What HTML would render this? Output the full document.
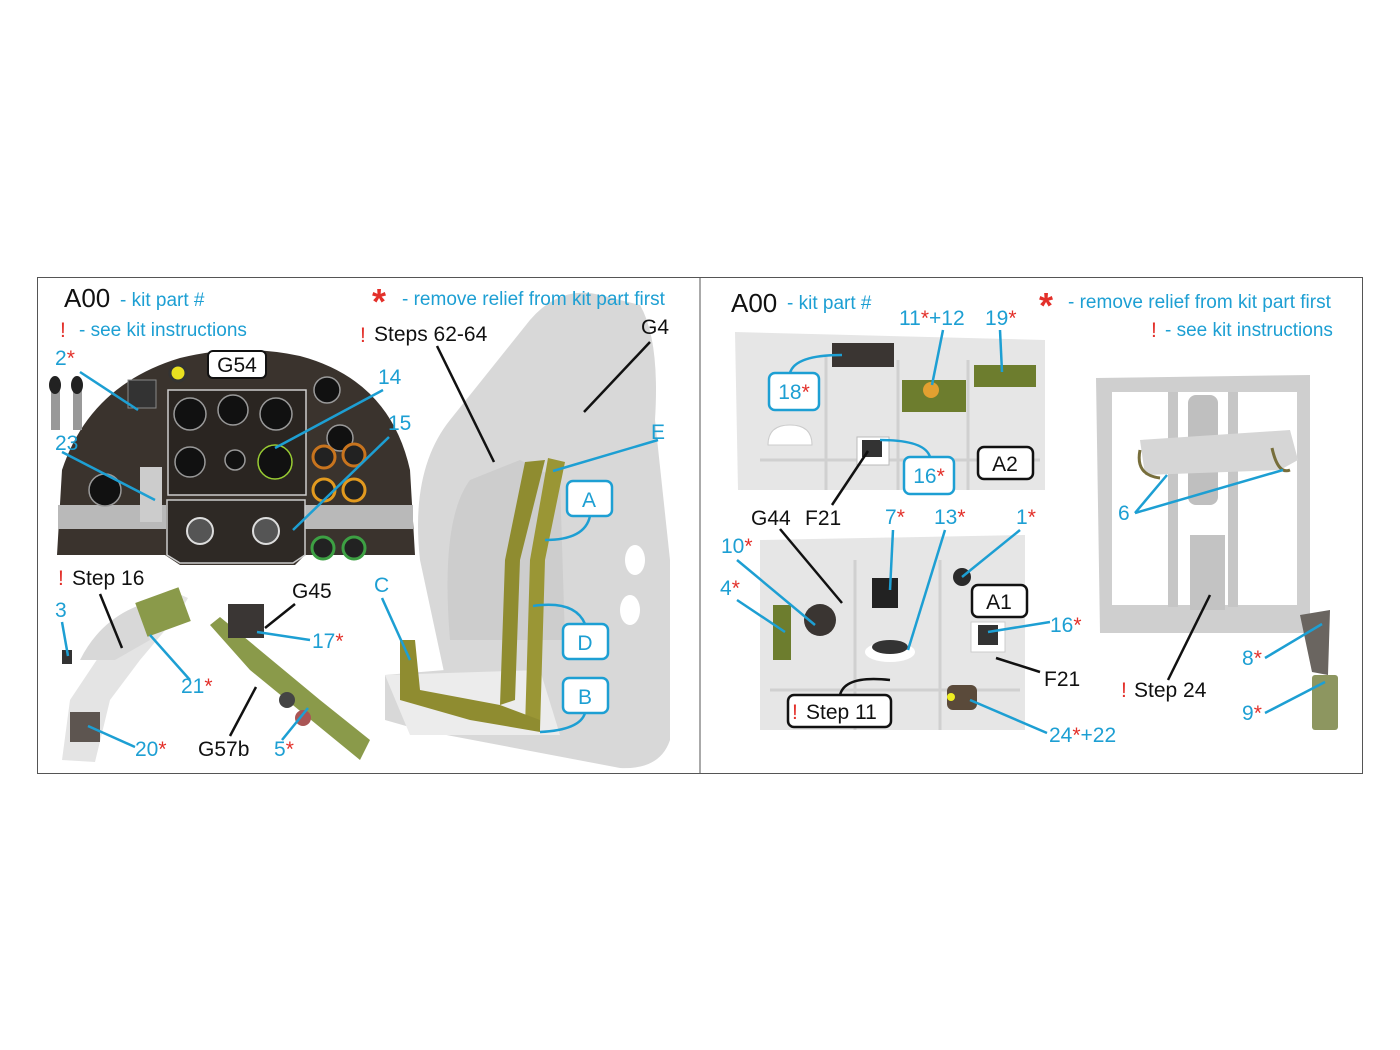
<!DOCTYPE html>
<html><head><meta charset="utf-8"><style>
html,body{margin:0;padding:0;background:#fff;}
svg{display:block}
text{font-family:"Liberation Sans",sans-serif;}
.b{fill:#1d9fd3;font-size:21px}
.k{fill:#111;font-size:21px}
.r{fill:#e3302a}
.sb{fill:#1d9fd3;font-size:19px}
.lb{stroke:#1d9fd3;stroke-width:2.5;fill:none}
.lk{stroke:#111;stroke-width:2.5;fill:none}
</style></head><body>
<svg width="1400" height="1050" viewBox="0 0 1400 1050">
<rect x="37.5" y="277.5" width="1325" height="496" fill="#fff" stroke="#555" stroke-width="1"/>
<line x1="700" y1="277" x2="700" y2="773" stroke="#555"/>

<!-- LEFT: instrument panel -->
<path d="M57,555 L62,470 Q90,385 180,358 Q240,343 300,356 Q390,380 410,470 L415,555 L305,555 L295,565 L180,565 L165,555 Z" fill="#3a332d"/>
<rect x="58" y="505" width="108" height="24" fill="#b9b9b9"/>
<rect x="305" y="505" width="108" height="24" fill="#b9b9b9"/>
<rect x="168" y="390" width="138" height="105" fill="#2a2521" stroke="#ccc" stroke-width="1.5"/>
<path d="M167,500 L305,500 L305,555 L293,563 L180,563 L167,555 Z" fill="#2e2925" stroke="#ccc" stroke-width="1.5"/>
<circle cx="200" cy="531" r="13" fill="#555" stroke="#ddd" stroke-width="2"/>
<circle cx="266" cy="531" r="13" fill="#555" stroke="#ddd" stroke-width="2"/>
<g fill="#111" stroke="#999" stroke-width="1.5">
<circle cx="190" cy="414" r="16"/><circle cx="233" cy="410" r="15"/><circle cx="276" cy="414" r="16"/>
<circle cx="190" cy="462" r="15"/><circle cx="235" cy="460" r="10"/>
<circle cx="275" cy="462" r="17" stroke="#9c3"/>
<circle cx="105" cy="490" r="16"/><circle cx="327" cy="390" r="13"/><circle cx="340" cy="438" r="13"/>
</g>
<g fill="#222" stroke-width="3">
<circle cx="324" cy="457" r="11" stroke="#c8741e"/><circle cx="354" cy="455" r="11" stroke="#c8741e"/>
<circle cx="324" cy="490" r="11" stroke="#e29a1f"/><circle cx="354" cy="490" r="11" stroke="#e29a1f"/>
<circle cx="323" cy="548" r="11" stroke="#3da043"/><circle cx="354" cy="548" r="11" stroke="#3da043"/>
</g>
<rect x="140" y="467" width="22" height="55" fill="#ccc"/>
<circle cx="178" cy="373" r="8" fill="#e8e020" stroke="#333" stroke-width="3"/>
<rect x="128" y="380" width="28" height="28" fill="#333" stroke="#888"/>
<rect x="208" y="351" width="58" height="27" rx="5" fill="#fff" stroke="#111" stroke-width="2"/>
<text x="237" y="372" class="k" text-anchor="middle">G54</text>
<rect x="51" y="390" width="9" height="40" fill="#999"/><ellipse cx="55" cy="385" rx="6" ry="9" fill="#222"/>
<rect x="73" y="390" width="9" height="40" fill="#999"/><ellipse cx="77" cy="385" rx="6" ry="9" fill="#222"/>

<!-- left bottom parts -->
<path d="M62,760 L70,700 L110,640 L150,600 L170,590 L188,598 L178,615 L140,660 L110,700 L95,762 Z" fill="#e4e4e4"/>
<path d="M80,660 Q100,620 140,605 L150,640 L115,660 Z" fill="#d8d8d8"/>
<rect x="140" y="594" width="46" height="36" fill="#8a9a4a" transform="rotate(-20 163 612)"/>
<rect x="70" y="712" width="30" height="30" fill="#5d5550"/>
<rect x="62" y="650" width="10" height="14" fill="#333"/>
<path d="M210,625 L220,617 L320,700 L370,740 L360,760 L250,670 Z" fill="#8a9a4a"/>
<rect x="228" y="604" width="36" height="34" fill="#3a3634"/>
<circle cx="287" cy="700" r="8" fill="#444"/><circle cx="303" cy="718" r="8" fill="#a55"/>

<!-- seat -->
<path d="M450,700 L420,560 Q410,470 450,420 L530,320 Q560,285 600,295 L640,305 Q660,340 655,420 L670,560 L670,740 Q660,770 620,768 L420,730 L385,720 L385,675 L445,670 Z" fill="#d8d8d8"/>
<path d="M385,675 L540,670 L560,735 L410,735 Z" fill="#ececec"/>
<path d="M450,640 Q440,520 470,480 L520,460 L560,480 L565,640 Z" fill="#cdcdcd"/>
<ellipse cx="635" cy="560" rx="10" ry="15" fill="#fff"/><ellipse cx="630" cy="610" rx="10" ry="15" fill="#fff"/>
<path d="M525,462 L545,460 L520,560 L515,700 L500,705 L505,560 Z" fill="#8f8c30"/>
<path d="M548,458 L565,462 L545,560 L540,730 L525,728 L530,560 Z" fill="#9a9635"/>
<path d="M400,640 L415,640 L420,690 L500,705 L540,720 L540,732 L470,720 L400,700 Z" fill="#8f8c30"/>

<!-- left labels -->
<text x="64" y="307" style="font-size:26px" fill="#111">A00</text>
<text x="120" y="306" class="sb">- kit part #</text>
<text x="60" y="337" class="r" style="font-size:21px">!</text>
<text x="79" y="336" class="sb">- see kit instructions</text>
<text x="372" y="314" class="r" style="font-size:36px;font-weight:bold">*</text>
<text x="402" y="305" class="sb">- remove relief from kit part first</text>
<text x="360" y="342" class="r" style="font-size:21px">!</text>
<text x="374" y="341" class="k">Steps 62-64</text>
<text x="641" y="334" class="k">G4</text>
<text x="55" y="365" class="b">2<tspan class="r">*</tspan></text>
<text x="378" y="384" class="b">14</text>
<text x="388" y="430" class="b">15</text>
<text x="55" y="450" class="b">23</text>
<text x="651" y="439" class="b">E</text>
<text x="58" y="585" class="r" style="font-size:21px">!</text>
<text x="72" y="585" class="k">Step 16</text>
<text x="55" y="617" class="b">3</text>
<text x="292" y="598" class="k">G45</text>
<text x="374" y="592" class="b">C</text>
<text x="312" y="648" class="b">17<tspan class="r">*</tspan></text>
<text x="181" y="693" class="b">21<tspan class="r">*</tspan></text>
<text x="135" y="756" class="b">20<tspan class="r">*</tspan></text>
<text x="198" y="756" class="k">G57b</text>
<text x="274" y="756" class="b">5<tspan class="r">*</tspan></text>
<g fill="#fff" stroke="#1d9fd3" stroke-width="2.5">
<rect x="567" y="481" width="45" height="35" rx="6"/>
<rect x="563" y="624" width="45" height="35" rx="6"/>
<rect x="563" y="678" width="45" height="35" rx="6"/>
</g>
<text x="589" y="507" class="b" text-anchor="middle">A</text>
<text x="585" y="650" class="b" text-anchor="middle">D</text>
<text x="585" y="704" class="b" text-anchor="middle">B</text>
<path class="lb" d="M590,516 Q585,540 545,540"/>
<path class="lb" d="M585,624 Q575,600 533,606"/>
<path class="lb" d="M585,713 Q580,730 540,732"/>
<g class="lb">
<line x1="80" y1="372" x2="138" y2="410"/>
<line x1="383" y1="390" x2="275" y2="448"/>
<line x1="389" y1="437" x2="293" y2="530"/>
<line x1="62" y1="452" x2="155" y2="500"/>
<line x1="658" y1="440" x2="553" y2="471"/>
<line x1="62" y1="622" x2="68" y2="656"/>
<line x1="382" y1="598" x2="410" y2="660"/>
<line x1="310" y1="640" x2="257" y2="632"/>
<line x1="190" y1="680" x2="150" y2="635"/>
<line x1="135" y1="747" x2="88" y2="726"/>
<line x1="282" y1="740" x2="308" y2="708"/>
</g>
<g class="lk">
<line x1="437" y1="346" x2="494" y2="462"/>
<line x1="650" y1="342" x2="584" y2="412"/>
<line x1="100" y1="594" x2="122" y2="648"/>
<line x1="295" y1="604" x2="265" y2="628"/>
<line x1="230" y1="736" x2="256" y2="687"/>
</g>

<!-- RIGHT -->
<path d="M735,332 L1045,340 L1045,490 L738,490 Z" fill="#e6e6e6"/>
<g stroke="#d0d0d0" stroke-width="3"><line x1="826" y1="355" x2="826" y2="490"/><line x1="898" y1="360" x2="898" y2="490"/><line x1="968" y1="360" x2="968" y2="490"/><line x1="760" y1="460" x2="1040" y2="460"/></g>
<rect x="832" y="343" width="62" height="24" fill="#3a3532"/>
<rect x="902" y="380" width="64" height="32" fill="#6d7d2e"/>
<circle cx="931" cy="390" r="8" fill="#e2a030"/>
<rect x="974" y="365" width="62" height="22" fill="#6d7d2e"/>
<rect x="857" y="437" width="32" height="28" fill="#fff" stroke="#bbb"/><rect x="862" y="440" width="20" height="17" fill="#333"/>
<path d="M768,445 Q768,425 790,425 Q812,425 812,445 Z" fill="#fff" stroke="#ccc"/>
<path d="M760,540 L1025,535 L1025,730 L760,730 Z" fill="#e6e6e6"/>
<g stroke="#d0d0d0" stroke-width="3"><line x1="855" y1="560" x2="855" y2="730"/><line x1="940" y1="560" x2="940" y2="730"/><line x1="770" y1="690" x2="1020" y2="690"/></g>
<rect x="773" y="605" width="18" height="55" fill="#6d7d2e"/>
<circle cx="820" cy="620" r="16" fill="#3a3532"/>
<rect x="872" y="578" width="26" height="30" fill="#222"/>
<ellipse cx="890" cy="652" rx="25" ry="10" fill="#fff"/><ellipse cx="890" cy="647" rx="18" ry="7" fill="#333"/>
<circle cx="962" cy="577" r="9" fill="#2a2a2a"/>
<rect x="971" y="622" width="34" height="30" fill="#fff" stroke="#ccc"/><rect x="978" y="625" width="20" height="20" fill="#333"/>
<rect x="947" y="685" width="30" height="25" rx="6" fill="#5a4a3a"/><circle cx="951" cy="697" r="4" fill="#ee2"/>
<path d="M1096,378 L1310,375 L1310,633 L1100,633 Z M1112,392 L1297,392 L1297,605 L1112,605 Z" fill="#cfcfcf" fill-rule="evenodd"/>
<rect x="1168" y="392" width="10" height="215" fill="#c6c6c6"/><rect x="1228" y="392" width="10" height="215" fill="#c6c6c6"/>
<rect x="1188" y="395" width="30" height="110" rx="8" fill="#bfbfbf"/>
<rect x="1190" y="535" width="35" height="75" fill="#c3c3c3"/>
<path d="M1140,440 L1290,430 L1298,460 L1280,470 L1145,475 Z" fill="#d6d6d6"/>
<path d="M1140,450 Q1135,475 1160,478" stroke="#776e3b" stroke-width="3" fill="none"/>
<path d="M1272,448 Q1278,475 1290,470" stroke="#776e3b" stroke-width="3" fill="none"/>
<path d="M1300,615 L1330,610 L1328,675 L1312,672 Z" fill="#6a6560"/>
<rect x="1312" y="675" width="26" height="55" rx="3" fill="#8d9660"/>

<text x="731" y="312" style="font-size:26px" fill="#111">A00</text>
<text x="787" y="309" class="sb">- kit part #</text>
<text x="1039" y="318" class="r" style="font-size:36px;font-weight:bold">*</text>
<text x="1068" y="308" class="sb">- remove relief from kit part first</text>
<text x="1151" y="337" class="r" style="font-size:21px">!</text>
<text x="1165" y="336" class="sb">- see kit instructions</text>
<text x="899" y="325" class="b">11<tspan class="r">*</tspan>+12</text>
<text x="985" y="325" class="b">19<tspan class="r">*</tspan></text>
<text x="751" y="525" class="k">G44</text><text x="805" y="525" class="k">F21</text>
<text x="885" y="524" class="b">7<tspan class="r">*</tspan></text>
<text x="934" y="524" class="b">13<tspan class="r">*</tspan></text>
<text x="1016" y="524" class="b">1<tspan class="r">*</tspan></text>
<text x="721" y="553" class="b">10<tspan class="r">*</tspan></text>
<text x="720" y="595" class="b">4<tspan class="r">*</tspan></text>
<text x="1118" y="520" class="b">6</text>
<text x="1050" y="632" class="b">16<tspan class="r">*</tspan></text>
<text x="1044" y="686" class="k">F21</text>
<text x="1121" y="697" class="r" style="font-size:21px">!</text>
<text x="1134" y="697" class="k">Step 24</text>
<text x="1242" y="665" class="b">8<tspan class="r">*</tspan></text>
<text x="1242" y="720" class="b">9<tspan class="r">*</tspan></text>
<text x="1049" y="742" class="b">24<tspan class="r">*</tspan>+22</text>
<g fill="#fff" stroke-width="2.5">
<rect x="769" y="373" width="50" height="37" rx="6" stroke="#1d9fd3"/>
<rect x="904" y="457" width="50" height="37" rx="6" stroke="#1d9fd3"/>
<rect x="978" y="447" width="55" height="32" rx="6" stroke="#111"/>
<rect x="972" y="585" width="55" height="32" rx="6" stroke="#111"/>
<rect x="788" y="695" width="103" height="32" rx="6" stroke="#111"/>
</g>
<text x="794" y="399" class="b" text-anchor="middle">18<tspan class="r">*</tspan></text>
<text x="929" y="483" class="b" text-anchor="middle">16<tspan class="r">*</tspan></text>
<text x="1005" y="471" class="k" text-anchor="middle">A2</text>
<text x="999" y="609" class="k" text-anchor="middle">A1</text>
<text x="792" y="719" class="r" style="font-size:21px">!</text>
<text x="806" y="719" class="k">Step 11</text>
<path class="lb" d="M790,373 Q795,355 842,355"/>
<path class="lb" d="M930,457 Q925,440 880,440"/>
<path class="lk" d="M840,695 Q845,675 890,680"/>
<g class="lb">
<line x1="943" y1="330" x2="932" y2="385"/>
<line x1="1000" y1="330" x2="1002" y2="372"/>
<line x1="893" y1="530" x2="890" y2="590"/>
<line x1="945" y1="530" x2="908" y2="650"/>
<line x1="1020" y1="530" x2="962" y2="577"/>
<line x1="737" y1="560" x2="815" y2="625"/>
<line x1="737" y1="600" x2="785" y2="632"/>
<line x1="1050" y1="622" x2="988" y2="632"/>
<line x1="1047" y1="733" x2="970" y2="700"/>
<line x1="1135" y1="513" x2="1167" y2="475"/>
<line x1="1135" y1="513" x2="1283" y2="470"/>
<line x1="1265" y1="658" x2="1322" y2="624"/>
<line x1="1265" y1="713" x2="1325" y2="682"/>
</g>
<g class="lk">
<line x1="832" y1="505" x2="868" y2="451"/>
<line x1="780" y1="529" x2="842" y2="603"/>
<line x1="1040" y1="672" x2="996" y2="658"/>
<line x1="1168" y1="680" x2="1210" y2="595"/>
</g>
</svg>
</body></html>
